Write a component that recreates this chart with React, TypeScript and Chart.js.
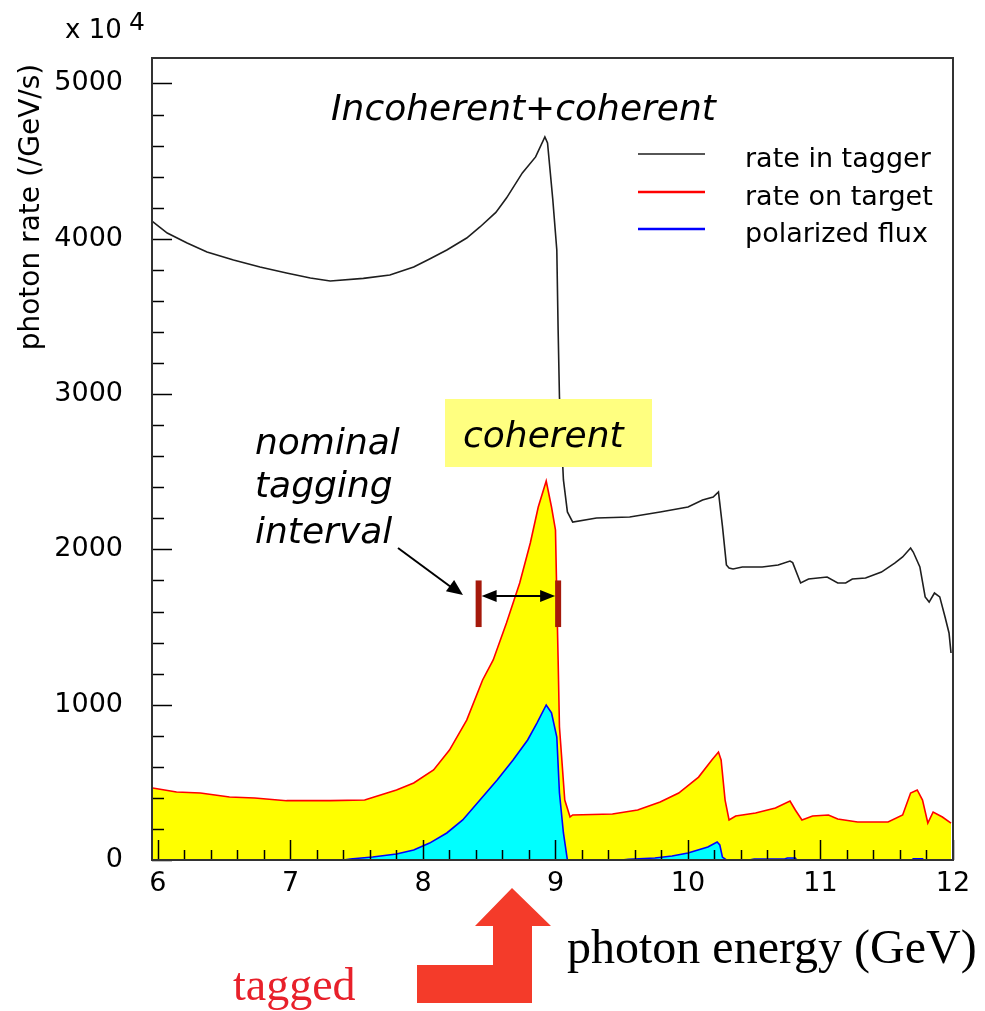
import React, { useEffect, useRef } from "react";
import { Chart, registerables } from "chart.js";

Chart.register(...registerables);

// ---- data ----
const taggerEnergy = [
  5.96, 6.07, 6.22, 6.37, 6.57, 6.77, 6.97, 7.15, 7.3, 7.55, 7.75, 7.93, 8.05, 8.18, 8.33, 8.43, 8.55, 8.63,
  8.75, 8.85, 8.92, 8.94, 8.98, 9.01, 9.02, 9.03, 9.06, 9.09, 9.13, 9.31, 9.56, 9.79, 10.0, 10.11, 10.19,
  10.23, 10.26, 10.29, 10.31, 10.34, 10.41, 10.56, 10.68, 10.77, 10.79, 10.85, 10.91, 11.05, 11.13, 11.19,
  11.24, 11.34, 11.46, 11.56, 11.62, 11.68, 11.7, 11.75, 11.79, 11.82, 11.86, 11.9, 11.94, 11.97, 11.985,
];
const taggerRate = [
  4110, 4037, 3973, 3915, 3864, 3818, 3780, 3747, 3728, 3745, 3767, 3818, 3870, 3928, 4005, 4076, 4170, 4262,
  4424, 4527, 4656, 4617, 4250, 3928, 3413, 2981, 2447, 2241, 2176, 2202, 2209, 2241, 2273, 2318, 2337,
  2370, 2150, 1900, 1880, 1874, 1887, 1887, 1900, 1925, 1915, 1784, 1809, 1822, 1784, 1784,
  1809, 1816, 1854, 1912, 1951, 2009, 1983, 1887, 1694, 1661, 1719, 1694, 1565, 1462, 1333,
];

const targetEnergy = [
  5.96, 6.14, 6.32, 6.54, 6.73, 6.97, 7.3, 7.56, 7.68, 7.8, 7.93, 8.08, 8.2, 8.33, 8.45, 8.53, 8.63, 8.73,
  8.81, 8.87, 8.93, 8.97, 9.0, 9.01, 9.02, 9.03, 9.07, 9.11, 9.13, 9.43, 9.62, 9.79, 9.93, 10.08, 10.18,
  10.23, 10.25, 10.28, 10.31, 10.36, 10.51, 10.66, 10.77, 10.81, 10.86, 10.94, 11.06, 11.13, 11.28, 11.51,
  11.62, 11.68, 11.73, 11.77, 11.81, 11.85, 11.92, 11.985,
];
const targetRate = [
  464, 438, 431, 406, 399, 382, 382, 386, 418, 451, 496, 580, 708, 901, 1159, 1288, 1526, 1784,
  2041, 2273, 2440, 2273, 2125, 1694, 1288, 856, 386, 277, 290, 296, 322, 373, 431, 534, 644,
  695, 644, 386, 258, 283, 303, 335, 380, 322, 258, 283, 290, 264, 245, 245,
  290, 431, 451, 386, 238, 309, 277, 238,
];

const polarizedEnergy = [
  5.96, 7.4, 7.45, 7.62, 7.8, 7.93, 8.05, 8.18, 8.3, 8.43, 8.56, 8.68, 8.79, 8.86, 8.93, 8.97, 9.01, 9.03,
  9.06, 9.09, 9.5, 9.55, 9.75, 9.88, 10.0, 10.15, 10.22, 10.24, 10.26, 10.29, 10.46, 10.5, 10.73, 10.75,
  10.81, 10.82, 11.69, 11.7, 11.77, 11.78, 11.985,
];
const polarizedRate = [
  0, 0, 6, 19, 39, 64, 109, 174, 258, 386, 515, 644, 773, 882, 998, 947, 792, 431,
  174, 0, 0, 5, 13, 26, 45, 84, 116, 97, 19, 0, 0, 6, 6, 13,
  13, 0, 0, 8, 8, 0, 0,
];

const xTickValues = [6, 7, 8, 9, 10, 11, 12];
const yTickValues = [0, 1000, 2000, 3000, 4000, 5000];
const seriesNames = ["rate in tagger", "rate on target", "polarized flux"];
const seriesColors = ["#1e1e1e", "#ff0000", "#0000ff"];
const taggingInterval = [8.42, 9.02];
const taggingLevel = [1500, 1800, 1700];

const X_MIN = 5.955;
const X_MAX = 12;
const Y_MIN = 0;
const Y_MAX = 5164;

const pairs = (xs: number[], ys: number[]) => xs.map((x, i) => ({ x, y: ys[i] }));

const SANS = "'DejaVu Sans', 'Liberation Sans', sans-serif";
const SERIF = "'Liberation Serif', 'DejaVu Serif', serif";

function arrowHead(ctx: CanvasRenderingContext2D, x1: number, y1: number, x2: number, y2: number, len: number, half: number) {
  const ang = Math.atan2(y2 - y1, x2 - x1);
  ctx.beginPath();
  ctx.moveTo(x2, y2);
  ctx.lineTo(x2 - len * Math.cos(ang) + half * Math.sin(ang), y2 - len * Math.sin(ang) - half * Math.cos(ang));
  ctx.lineTo(x2 - len * Math.cos(ang) - half * Math.sin(ang), y2 - len * Math.sin(ang) + half * Math.cos(ang));
  ctx.closePath();
  ctx.fill();
}

const decorPlugin = {
  id: "decor",
  afterDraw(chart: any) {
    const { ctx, chartArea: a } = chart;
    const xs = chart.scales.x;
    const ys = chart.scales.y;
    ctx.save();

    // inside ticks
    ctx.strokeStyle = "#000";
    ctx.lineWidth = 1.5;
    for (let v = 0; v <= Y_MAX; v += 200) {
      const py = Math.round(ys.getPixelForValue(v)) + 0.5;
      const len = v % 1000 === 0 ? 20 : 12;
      ctx.beginPath();
      ctx.moveTo(a.left, py);
      ctx.lineTo(a.left + len, py);
      ctx.stroke();
    }
    for (let i = 30; i <= 60; i++) {
      const px = Math.round(xs.getPixelForValue(i / 5)) + 0.5;
      const len = i % 5 === 0 ? 20 : 10;
      ctx.beginPath();
      ctx.moveTo(px, a.bottom);
      ctx.lineTo(px, a.bottom - len);
      ctx.stroke();
    }

    // frame
    ctx.strokeStyle = "#333";
    ctx.lineWidth = 2;
    ctx.strokeRect(a.left, a.top, a.right - a.left, a.bottom - a.top);

    // axis title / exponent
    ctx.fillStyle = "#000";
    ctx.font = `26px ${SANS}`;
    ctx.textAlign = "left";
    ctx.textBaseline = "alphabetic";
    ctx.fillText("x 10", 65, 38);
    ctx.font = `25px ${SANS}`;
    ctx.fillText("4", 129, 30);

    ctx.save();
    ctx.translate(32, 207);
    ctx.rotate(-Math.PI / 2);
    ctx.font = `28px ${SANS}`;
    ctx.textAlign = "center";
    ctx.textBaseline = "middle";
    ctx.fillText("photon rate (/GeV/s)", 0, 0);
    ctx.restore();

    // legend
    const legY = [154, 192, 229];
    const legBase = [167, 204.5, 242];
    ctx.font = `27px ${SANS}`;
    ctx.textAlign = "left";
    ctx.textBaseline = "alphabetic";
    seriesNames.forEach((name, i) => {
      ctx.strokeStyle = seriesColors[i];
      ctx.lineWidth = i === 0 ? 1.5 : 2.5;
      ctx.beginPath();
      ctx.moveTo(638, legY[i]);
      ctx.lineTo(705, legY[i]);
      ctx.stroke();
      ctx.fillStyle = "#000";
      ctx.fillText(name, 745, legBase[i]);
    });

    // annotations
    ctx.font = `italic 36px ${SANS}`;
    ctx.fillStyle = "#000";
    ctx.fillText("Incoherent+coherent", 331, 120);

    ctx.fillStyle = "#ffff80";
    ctx.fillRect(445, 399, 207, 68);
    ctx.fillStyle = "#000";
    ctx.fillText("coherent", 463, 447);

    ctx.fillText("nominal", 255, 454);
    ctx.fillText("tagging", 255, 497);
    ctx.fillText("interval", 255, 543);

    // pointer arrow
    ctx.strokeStyle = "#000";
    ctx.lineWidth = 2;
    ctx.beginPath();
    ctx.moveTo(398, 548);
    ctx.lineTo(455, 590);
    ctx.stroke();
    arrowHead(ctx, 398, 548, 463, 595, 16, 7);

    // tagging interval bars
    const bx1 = xs.getPixelForValue(taggingInterval[0]);
    const bx2 = xs.getPixelForValue(taggingInterval[1]);
    const by1 = ys.getPixelForValue(taggingLevel[1]);
    const by2 = ys.getPixelForValue(taggingLevel[0]);
    const bym = ys.getPixelForValue(taggingLevel[2]);
    ctx.fillStyle = "#a5190b";
    ctx.fillRect(bx1 - 3, by1, 6, by2 - by1);
    ctx.fillRect(bx2 - 3, by1, 6, by2 - by1);
    ctx.strokeStyle = "#000";
    ctx.fillStyle = "#000";
    ctx.lineWidth = 2;
    ctx.beginPath();
    ctx.moveTo(bx1 + 10, bym);
    ctx.lineTo(bx2 - 10, bym);
    ctx.stroke();
    arrowHead(ctx, bx2, bym, bx1 + 3, bym, 15, 6);
    arrowHead(ctx, bx1, bym, bx2 - 3, bym, 15, 6);

    // big red bent arrow
    ctx.fillStyle = "#f43b2a";
    ctx.beginPath();
    ctx.moveTo(512, 888);
    ctx.lineTo(551, 926);
    ctx.lineTo(532, 926);
    ctx.lineTo(532, 1003);
    ctx.lineTo(417, 1003);
    ctx.lineTo(417, 965);
    ctx.lineTo(493, 965);
    ctx.lineTo(493, 926);
    ctx.lineTo(475, 926);
    ctx.closePath();
    ctx.fill();

    ctx.font = `46px ${SERIF}`;
    ctx.fillStyle = "#e8202a";
    ctx.fillText("tagged", 233, 1000);
    ctx.font = `48px ${SERIF}`;
    ctx.fillStyle = "#000";
    ctx.fillText("photon energy (GeV)", 567, 963);

    ctx.restore();
  },
};

export default function App() {
  const ref = useRef<HTMLCanvasElement | null>(null);

  useEffect(() => {
    if (!ref.current) return;
    const chart = new Chart(ref.current, {
      type: "line",
      data: {
        datasets: [
          {
            label: seriesNames[0],
            data: pairs(taggerEnergy, taggerRate),
            borderColor: seriesColors[0],
            borderWidth: 1.6,
            pointRadius: 0,
            fill: false,
            tension: 0,
            order: 2,
          },
          {
            label: seriesNames[1],
            data: pairs(targetEnergy, targetRate),
            borderColor: seriesColors[1],
            backgroundColor: "#ffff00",
            borderWidth: 1.6,
            pointRadius: 0,
            fill: "origin",
            tension: 0,
            order: 1,
          },
          {
            label: seriesNames[2],
            data: pairs(polarizedEnergy, polarizedRate),
            borderColor: seriesColors[2],
            backgroundColor: "#00ffff",
            borderWidth: 1.6,
            pointRadius: 0,
            fill: "origin",
            tension: 0,
            order: 0,
          },
        ],
      },
      options: {
        responsive: false,
        animation: false,
        devicePixelRatio: 1,
        layout: { padding: { top: 58, right: 32, left: 0, bottom: 0 } },
        plugins: { legend: { display: false }, tooltip: { enabled: false }, title: { display: false } },
        scales: {
          x: {
            type: "linear",
            min: X_MIN,
            max: X_MAX,
            grid: { display: false, drawTicks: false },
            border: { display: false },
            afterBuildTicks: (s: any) => {
              s.ticks = xTickValues.map((v) => ({ value: v }));
            },
            afterFit: (s: any) => {
              s.height = 151;
            },
            ticks: {
              autoSkip: false,
              maxRotation: 0,
              padding: 8,
              color: "#000",
              font: { family: SANS, size: 27 },
              callback: (v: any) => String(v),
            },
          },
          y: {
            type: "linear",
            min: Y_MIN,
            max: Y_MAX,
            grid: { display: false, drawTicks: false },
            border: { display: false },
            afterBuildTicks: (s: any) => {
              s.ticks = yTickValues.map((v) => ({ value: v }));
            },
            afterFit: (s: any) => {
              s.width = 152;
            },
            ticks: {
              padding: 29,
              color: "#000",
              font: { family: SANS, size: 27 },
              callback: (v: any) => String(v),
            },
          },
        },
      },
      plugins: [decorPlugin],
    });
    return () => chart.destroy();
  }, []);

  return (
    <div style={{ position: "absolute", left: 0, top: 0, width: 985, height: 1011, background: "#fff" }}>
      <canvas ref={ref} width={985} height={1011} style={{ width: 985, height: 1011, display: "block" }} />
    </div>
  );
}
